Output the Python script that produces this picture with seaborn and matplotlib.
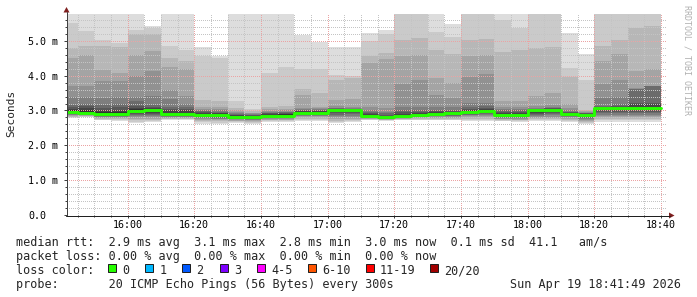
import matplotlib
matplotlib.use("Agg")
import matplotlib.pyplot as plt
import pandas as pd
import seaborn as sns
from matplotlib.patches import Rectangle, Polygon
from matplotlib.lines import Line2D
from matplotlib.ticker import MultipleLocator, FixedLocator

# ---------------- data ----------------
C = 6.5  # ping beyond the top of the value axis (clipped smoke)

window_start = "15:41:49"
window_end = "18:41:49"
col_end = ["15:45", "15:50", "15:55", "16:00", "16:05", "16:10", "16:15", "16:20",
           "16:25", "16:30", "16:35", "16:40", "16:45", "16:50", "16:55", "17:00",
           "17:05", "17:10", "17:15", "17:20", "17:25", "17:30", "17:35", "17:40",
           "17:45", "17:50", "17:55", "18:00", "18:05", "18:10", "18:15", "18:20",
           "18:25", "18:30", "18:35", "18:40"]

# median rtt per 5 min column (ms)
median_ms = [2.95, 2.94, 2.89, 2.89, 2.99, 3.00, 2.89, 2.89, 2.87, 2.86, 2.81, 2.80,
             2.85, 2.85, 2.93, 2.93, 3.00, 3.00, 2.83, 2.80, 2.84, 2.88, 2.91, 2.92,
             2.96, 2.99, 2.88, 2.87, 3.00, 3.02, 2.91, 2.87, 3.06, 3.08, 3.06, 3.06]

# upper smoke edges (outermost band first), ms
smoke_hi = [
    [C, 5.51, 4.79, 4.50, 3.71, 3.38, 3.16, 3.10, 3.05, 3.00],
    [C, 5.29, 4.84, 4.58, 3.71, 3.39, 3.19, 3.13, 3.08, 3.01],
    [C, 5.01, 4.84, 4.17, 3.86, 3.35, 3.16, 3.07, 3.02, 2.96],
    [C, 4.95, 4.82, 4.09, 3.86, 3.38, 3.19, 3.09, 3.02, 2.96],
    [C, 5.32, 5.20, 4.60, 3.99, 3.38, 3.26, 3.14, 3.08, 3.03],
    [5.43, 5.36, 5.20, 4.72, 4.12, 3.42, 3.16, 3.10, 3.06, 3.03],
    [C, 4.84, 4.50, 4.24, 3.59, 3.33, 3.11, 3.05, 3.00, 2.94],
    [C, 4.74, 4.43, 4.18, 3.42, 3.19, 3.09, 3.04, 3.00, 2.94],
    [4.83, 4.55, 3.29, 3.11, 3.05, 3.01, 2.98, 2.95, 2.93, 2.90],
    [4.55, 4.50, 3.26, 3.10, 3.04, 3.00, 2.97, 2.94, 2.92, 2.89],
    [C, 3.26, 3.07, 3.00, 2.96, 2.93, 2.90, 2.88, 2.86, 2.84],
    [C, 3.04, 2.98, 2.94, 2.92, 2.90, 2.88, 2.86, 2.84, 2.83],
    [C, 4.08, 3.11, 3.03, 2.99, 2.96, 2.94, 2.92, 2.90, 2.88],
    [C, 4.25, 3.12, 3.04, 3.00, 2.97, 2.95, 2.93, 2.91, 2.89],
    [5.17, 4.20, 3.62, 3.45, 3.07, 3.03, 3.01, 2.99, 2.98, 2.96],
    [4.97, 4.20, 3.51, 3.11, 3.06, 3.03, 3.01, 2.99, 2.98, 2.96],
    [4.83, 4.01, 3.87, 3.29, 3.12, 3.08, 3.06, 3.05, 3.03, 3.02],
    [4.81, 3.98, 3.92, 3.34, 3.09, 3.07, 3.05, 3.04, 3.03, 3.02],
    [5.23, 5.00, 4.55, 4.36, 3.11, 3.00, 2.96, 2.92, 2.89, 2.86],
    [5.30, 5.20, 4.64, 4.47, 3.07, 2.97, 2.92, 2.88, 2.85, 2.83],
    [C, C, 5.03, 4.55, 3.76, 3.11, 3.00, 2.95, 2.91, 2.88],
    [C, C, 5.08, 4.58, 3.88, 3.11, 3.01, 2.96, 2.93, 2.91],
    [C, 5.26, 4.74, 3.92, 3.45, 3.10, 3.02, 2.98, 2.96, 2.94],
    [5.49, 5.12, 4.61, 3.80, 3.36, 3.09, 3.02, 2.98, 2.97, 2.95],
    [C, C, 5.03, 4.57, 3.97, 3.21, 3.10, 3.04, 3.01, 2.99],
    [C, C, 5.06, 4.60, 4.05, 3.22, 3.12, 3.06, 3.03, 3.01],
    [C, 5.60, 4.69, 3.26, 3.11, 3.04, 3.00, 2.96, 2.93, 2.91],
    [C, 5.36, 4.73, 3.26, 3.11, 3.04, 3.00, 2.96, 2.93, 2.90],
    [C, C, 4.79, 3.42, 3.14, 3.08, 3.05, 3.04, 3.03, 3.02],
    [C, C, 4.82, 3.50, 3.16, 3.10, 3.07, 3.06, 3.05, 3.04],
    [5.22, 4.21, 3.97, 3.18, 3.06, 3.00, 2.97, 2.95, 2.94, 2.93],
    [4.63, 3.87, 3.02, 2.98, 2.96, 2.94, 2.93, 2.92, 2.91, 2.90],
    [C, C, 4.84, 4.41, 3.77, 3.35, 3.14, 3.11, 3.09, 3.08],
    [C, C, 5.01, 4.63, 3.88, 3.38, 3.20, 3.13, 3.11, 3.10],
    [C, C, 5.36, 4.12, 3.64, 3.63, 3.62, 3.21, 3.19, 3.09],
    [C, C, 5.43, 4.19, 3.71, 3.70, 3.69, 3.21, 3.20, 3.09],
]

# lower smoke edges (outermost band first), ms
smoke_lo = [
    [2.78, 2.80, 2.82, 2.84, 2.86, 2.87, 2.89, 2.90, 2.91, 2.93],
    [2.80, 2.82, 2.84, 2.85, 2.87, 2.88, 2.89, 2.90, 2.91, 2.92],
    [2.72, 2.74, 2.76, 2.78, 2.80, 2.82, 2.83, 2.84, 2.85, 2.87],
    [2.71, 2.73, 2.76, 2.78, 2.80, 2.82, 2.83, 2.84, 2.85, 2.87],
    [2.65, 2.68, 2.72, 2.76, 2.80, 2.84, 2.87, 2.90, 2.93, 2.96],
    [2.66, 2.69, 2.73, 2.77, 2.81, 2.85, 2.88, 2.91, 2.94, 2.97],
    [2.73, 2.75, 2.77, 2.79, 2.81, 2.82, 2.83, 2.84, 2.85, 2.87],
    [2.73, 2.75, 2.77, 2.79, 2.81, 2.82, 2.83, 2.84, 2.85, 2.87],
    [2.62, 2.66, 2.70, 2.73, 2.76, 2.78, 2.80, 2.82, 2.83, 2.85],
    [2.61, 2.65, 2.69, 2.72, 2.75, 2.77, 2.79, 2.81, 2.82, 2.84],
    [2.63, 2.66, 2.69, 2.71, 2.73, 2.75, 2.76, 2.77, 2.78, 2.79],
    [2.62, 2.65, 2.68, 2.70, 2.72, 2.74, 2.75, 2.76, 2.77, 2.78],
    [2.68, 2.70, 2.72, 2.74, 2.76, 2.78, 2.79, 2.80, 2.82, 2.83],
    [2.68, 2.70, 2.72, 2.74, 2.76, 2.78, 2.79, 2.80, 2.82, 2.83],
    [2.71, 2.74, 2.77, 2.80, 2.83, 2.85, 2.87, 2.88, 2.89, 2.91],
    [2.71, 2.74, 2.77, 2.80, 2.83, 2.85, 2.87, 2.88, 2.89, 2.91],
    [2.63, 2.67, 2.71, 2.75, 2.80, 2.84, 2.88, 2.92, 2.95, 2.97],
    [2.66, 2.69, 2.73, 2.77, 2.81, 2.85, 2.89, 2.92, 2.95, 2.97],
    [2.72, 2.74, 2.76, 2.77, 2.78, 2.79, 2.80, 2.81, 2.81, 2.82],
    [2.71, 2.72, 2.73, 2.74, 2.75, 2.76, 2.77, 2.78, 2.78, 2.79],
    [2.72, 2.74, 2.76, 2.77, 2.78, 2.79, 2.80, 2.81, 2.82, 2.83],
    [2.72, 2.74, 2.76, 2.78, 2.80, 2.81, 2.82, 2.83, 2.85, 2.86],
    [2.72, 2.74, 2.77, 2.79, 2.81, 2.83, 2.85, 2.86, 2.88, 2.89],
    [2.72, 2.74, 2.77, 2.79, 2.81, 2.83, 2.85, 2.87, 2.88, 2.90],
    [2.71, 2.74, 2.77, 2.80, 2.83, 2.86, 2.88, 2.90, 2.92, 2.94],
    [2.71, 2.74, 2.77, 2.80, 2.83, 2.86, 2.89, 2.92, 2.94, 2.96],
    [2.69, 2.71, 2.73, 2.75, 2.77, 2.79, 2.81, 2.83, 2.85, 2.86],
    [2.68, 2.70, 2.72, 2.74, 2.76, 2.78, 2.80, 2.82, 2.84, 2.85],
    [2.70, 2.73, 2.76, 2.79, 2.82, 2.85, 2.88, 2.91, 2.94, 2.97],
    [2.70, 2.73, 2.76, 2.79, 2.82, 2.86, 2.89, 2.92, 2.95, 2.98],
    [2.68, 2.71, 2.74, 2.77, 2.80, 2.82, 2.84, 2.86, 2.88, 2.89],
    [2.61, 2.64, 2.67, 2.70, 2.73, 2.76, 2.79, 2.81, 2.83, 2.85],
    [2.68, 2.72, 2.76, 2.80, 2.84, 2.88, 2.92, 2.96, 3.00, 3.03],
    [2.68, 2.72, 2.76, 2.80, 2.84, 2.88, 2.92, 2.96, 3.00, 3.04],
    [2.68, 2.72, 2.76, 2.80, 2.84, 2.88, 2.92, 2.96, 3.00, 3.03],
    [2.68, 2.72, 2.76, 2.80, 2.84, 2.88, 2.92, 2.96, 3.00, 3.03],
]

x_tick_labels = ["16:00", "16:20", "16:40", "17:00", "17:20", "17:40", "18:00", "18:20", "18:40"]
y_tick_values = [0, 1, 2, 3, 4, 5]
y_tick_labels = ["0.0", "1.0 m", "2.0 m", "3.0 m", "4.0 m", "5.0 m"]
y_max = 5.77

legend_rtt = "median rtt:  2.9 ms avg  3.1 ms max  2.8 ms min  3.0 ms now  0.1 ms sd  41.1   am/s"
legend_loss = "packet loss: 0.00 % avg  0.00 % max  0.00 % min  0.00 % now"
legend_color_title = "loss color:"
loss_labels = ["0", "1", "2", "3", "4-5", "6-10", "11-19", "20/20"]
loss_colors = ["#26ff00", "#00b8ff", "#0059ff", "#7e00ff", "#ff00ff", "#ff5500", "#ff0000", "#a10000"]
legend_probe = "probe:       20 ICMP Echo Pings (56 Bytes) every 300s"
stamp = "Sun Apr 19 18:41:49 2026"
watermark = "RRDTOOL / TOBI OETIKER"


def to_min(s):
    parts = [int(p) for p in s.split(":")]
    while len(parts) < 3:
        parts.append(0)
    return parts[0] * 60 + parts[1] + parts[2] / 60.0 - 16 * 60


# ---------------- style ----------------
sns.set_style("white")
plt.rcParams["font.family"] = ["DejaVu Sans Mono"]

W, H = 697, 297
fig = plt.figure(figsize=(W / 100, H / 100), dpi=100)
fig.patch.set_facecolor("white")


def fx(px):
    return px / W


def fy(py):
    return 1 - py / H


ax = fig.add_axes([fx(67), fy(215), 600 / W, 201 / H])
ax.set_facecolor("white")

x0 = to_min(window_start)
x1 = to_min(window_end)
edges = [x0] + [to_min(t) for t in col_end]

# smoke bands: outer (light) to inner (dark)
n_bands = 10
for b in range(n_bands):
    g = (50 + 19 * (n_bands - 1 - b)) / 255.0
    hi = [row[b] for row in smoke_hi]
    lo = [row[b] for row in smoke_lo]
    ax.fill_between(edges, lo + [lo[-1]], hi + [hi[-1]], step="post",
                    color=(g, g, g), linewidth=0, antialiased=False, zorder=1)

# median line
df = pd.DataFrame({"time": edges, "rtt": median_ms + [median_ms[-1]]})
sns.lineplot(data=df, x="time", y="rtt", ax=ax, color=loss_colors[0], linewidth=2.1,
             drawstyle="steps-post", estimator=None, sort=False, zorder=3)

ax.set_xlim(x0, x1)
ax.set_ylim(0, y_max)

for s in ax.spines.values():
    s.set_visible(False)

ax.xaxis.set_major_locator(FixedLocator([to_min(t) for t in x_tick_labels]))
ax.xaxis.set_minor_locator(MultipleLocator(5))
ax.yaxis.set_major_locator(FixedLocator(y_tick_values))
ax.yaxis.set_minor_locator(MultipleLocator(0.2))
ax.set_xticks([to_min(t) for t in x_tick_labels], labels=x_tick_labels)
ax.set_yticks(y_tick_values, labels=y_tick_labels, ha="left")

ax.set_axisbelow(False)
ax.grid(which="minor", color="#c4c4c4", linestyle=(0, (1, 1.5)),
        linewidth=0.72, antialiased=False)
ax.grid(which="major", color="#eba3a3", linestyle=(0, (1, 1.5)),
        linewidth=0.72, antialiased=False)

ax.tick_params(which="both", direction="out", color="#404040", width=0.72,
               bottom=True, left=True, top=False, right=False)
ax.tick_params(which="major", length=2.2)
ax.tick_params(which="minor", length=1.4)
ax.tick_params(axis="x", which="major", pad=1.6, labelsize=7.2, labelcolor="black")
ax.tick_params(axis="y", which="major", pad=25.8, labelsize=7.2, labelcolor="black")

ax.set_xlabel("")
ax.set_ylabel("Seconds", fontsize=8.0)
ax.yaxis.label.set_rotation_mode("default")
ax.yaxis.label.set_ha("center")
ax.yaxis.label.set_va("center")
ax.yaxis.set_label_coords((11 - 67) / 600, (215 - 113.7) / 201)

# axis lines with arrows
fig.add_artist(Line2D([fx(66.5), fx(66.5)], [fy(215.5), fy(12)], color="#404040", lw=0.72))
fig.add_artist(Line2D([fx(66), fx(669.5)], [fy(215.5), fy(215.5)], color="#202020", lw=0.72))
fig.add_artist(Polygon([[fx(66.5), fy(7)], [fx(63.5), fy(12.5)], [fx(69.5), fy(12.5)]],
                       closed=True, transform=fig.transFigure, color="#7f1f1f", lw=0))
fig.add_artist(Polygon([[fx(674.5), fy(215.5)], [fx(669), fy(212.5)], [fx(669), fy(218.5)]],
                       closed=True, transform=fig.transFigure, color="#7f1f1f", lw=0))

# watermark
fig.text(fx(687.5), fy(60), watermark, rotation=270, ha="center", va="center",
         fontsize=6.0, color="#b0b0b0")

# legend block
fs = 8.5
fig.text(fx(16), fy(245.8), legend_rtt, ha="left", va="baseline", fontsize=fs)
fig.text(fx(16), fy(260.0), legend_loss, ha="left", va="baseline", fontsize=fs)
fig.text(fx(16), fy(274.2), legend_color_title, ha="left", va="baseline", fontsize=fs)
fig.text(fx(16), fy(288.4), legend_probe, ha="left", va="baseline", fontsize=fs)
fig.text(fx(681), fy(288.4), stamp, ha="right", va="baseline", fontsize=fs)

box_x = [108, 145, 182, 219.5, 257, 307.5, 365.5, 430]
for bx, lab, col in zip(box_x, loss_labels, loss_colors):
    fig.add_artist(Rectangle((fx(bx), fy(272)), 8 / W, 8 / H, transform=fig.transFigure,
                             facecolor=col, edgecolor="#202020", lw=0.72))
    fig.text(fx(bx + 14.5), fy(274.2), lab, ha="left", va="baseline", fontsize=fs)

fig.savefig("out.png", dpi=100, facecolor="white")
